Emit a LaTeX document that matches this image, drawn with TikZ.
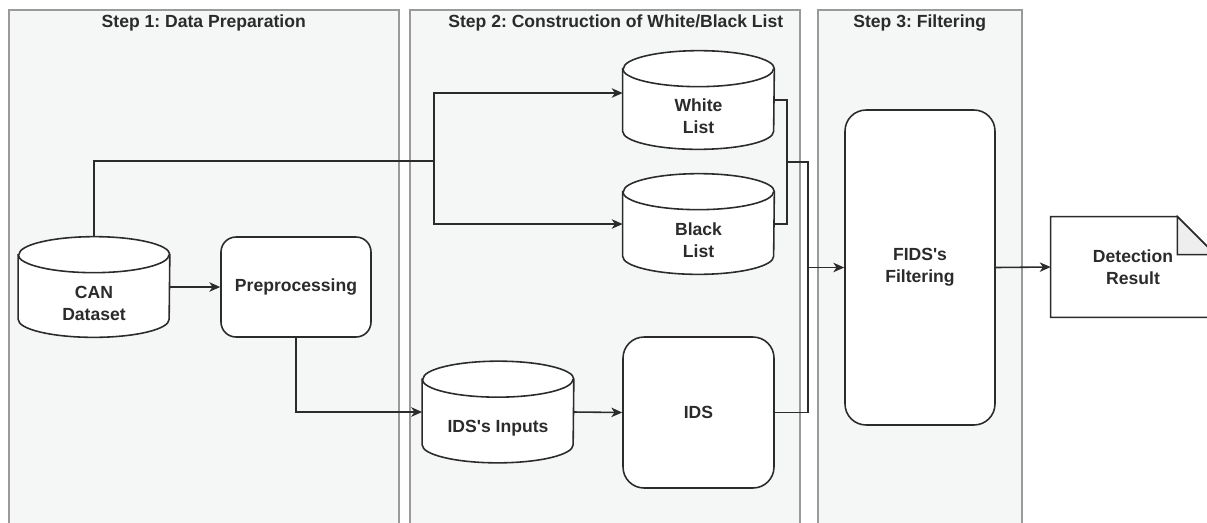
\documentclass[tikz,border=0pt]{standalone}
\usepackage{fontspec}
\setmainfont{Liberation Sans}
\usetikzlibrary{arrows.meta}
\frenchspacing

\pgfdeclarelayer{panels}
\pgfdeclarelayer{outlines}
\pgfsetlayers{panels,outlines,main}

\definecolor{panelfill}{HTML}{F5F6F6}
\definecolor{panelline}{HTML}{9A9A9A}
\definecolor{ink}{HTML}{2B2B2B}
\definecolor{foldfill}{HTML}{EEEEEE}

\newcommand{\apos}{\textquotesingle}

\tikzset{
  panel/.style={draw=panelline, line width=0.9pt, fill=panelfill, anchor=north west,
    minimum height=10.8cm, inner sep=0pt},
  paneltitle/.style={font=\bfseries, text=ink},
  proc/.style={draw=ink, line width=0.9pt, fill=white, rounded corners=0.3cm,
    font=\bfseries\fontsize{10}{12.5}\selectfont, text=ink, align=center, inner sep=0pt},
  store/.style={inner sep=0pt, minimum width=3.02cm, minimum height=2cm},
  storetext/.style={font=\bfseries\fontsize{10}{12.5}\selectfont, text=ink, align=center, yshift=-0.32cm},
  shapeline/.style={draw=ink, line width=0.9pt, fill=white},
  wire/.style={draw=ink, line width=0.9pt},
  flow/.style={wire, -{Stealth[length=6.2pt, width=5.4pt, inset=1.8pt]}},
}

% cylinder outline round a store node
\newcommand{\dbshape}[1]{%
  \path[shapeline] ([yshift=-0.36cm]#1.north west) -- ([yshift=0.36cm]#1.south west)
    arc[start angle=180, end angle=360, x radius=1.51cm, y radius=0.36cm]
    -- ([yshift=-0.36cm]#1.north east)
    arc[start angle=0, end angle=180, x radius=1.51cm, y radius=0.36cm] -- cycle;
  \draw[draw=ink, line width=0.9pt] ([yshift=-0.36cm]#1.north west)
    arc[start angle=180, end angle=360, x radius=1.51cm, y radius=0.36cm];
}

% page with folded corner
\newcommand{\noteshape}[1]{%
  \path[shapeline] (#1.north west) -- ([xshift=-0.76cm]#1.north east)
    -- ([yshift=-0.76cm]#1.north east) -- (#1.south east) -- (#1.south west) -- cycle;
  \path[shapeline, fill=foldfill] ([xshift=-0.76cm]#1.north east)
    -- ([xshift=-0.76cm, yshift=-0.76cm]#1.north east) -- ([yshift=-0.76cm]#1.north east) -- cycle;
}

\begin{document}
\begin{tikzpicture}[x=0.02cm, y=-0.02cm]
  \useasboundingbox (0,0) rectangle (1207,522);

  % the three steps
  \begin{pgfonlayer}{panels}
    \node[panel, minimum width=7.8cm] (p1) at (8,9) {};
    \node[panel, minimum width=7.8cm] (p2) at (409,9) {};
    \node[panel, minimum width=4.08cm] (p3) at (817,9) {};
  \end{pgfonlayer}
  \node[paneltitle] (t1) at ([yshift=-0.28cm]p1.north) {Step 1: Data Preparation};
  \node[paneltitle] (t2) at ([xshift=0.22cm, yshift=-0.28cm]p2.north) {Step 2: Construction of White/Black List};
  \node[paneltitle] (t3) at ([yshift=-0.28cm]p3.north) {Step 3: Filtering};

  % step 1
  \node[store, label={[storetext]center:CAN\\Dataset}] (can) at (94,287) {};
  \node[proc, minimum width=3cm, minimum height=2cm] (pre) at (296,287) {Preprocessing};

  % step 2
  \node[store, minimum height=1.96cm, label={[storetext]center:White\\List}] (wl) at (698.5,100) {};
  \node[store, label={[storetext]center:Black\\List}] (bl) at (698.5,224) {};
  \node[store, minimum height=2.02cm, label={[storetext]center:IDS\apos s Inputs}] (inp) at (498,412) {};
  \node[proc, minimum width=3.02cm, minimum height=3.02cm, rounded corners=0.42cm] (ids) at (698.5,412.5) {IDS};

  % step 3
  \node[proc, minimum width=3cm, minimum height=6.3cm, rounded corners=0.42cm] (fids) at (920,267.5) {FIDS\apos s\\Filtering};
  \node[store, minimum width=3.28cm, font=\bfseries\fontsize{10}{12.5}\selectfont, text=ink, align=center] (res) at (1133,267) {Detection\\Result};

  \begin{pgfonlayer}{outlines}
    \dbshape{can}
    \dbshape{wl}
    \dbshape{bl}
    \dbshape{inp}
    \noteshape{res}
  \end{pgfonlayer}

  % connectors
  \coordinate (split) at (434,161);
  \draw[wire] (can.north) |- (split);
  \draw[flow] (split) |- ([yshift=0.14cm]wl.west);
  \draw[flow] (split) |- (bl.west);
  \draw[flow] (can.east) -- (pre.west);
  \draw[flow] (pre.south) |- (inp.west);
  \draw[flow] (inp.east) -- (ids.west);

  \coordinate (lstjoin) at (787,162);
  \coordinate (fidsin) at ([xshift=-0.72cm]fids.west);
  \draw[wire] (wl.east) -| (lstjoin);
  \draw[wire] (bl.east) -| (lstjoin);
  \draw[wire] (lstjoin) -| (fidsin);
  \draw[wire] (ids.east) -| (fidsin);
  \draw[flow] (fidsin) -- (fids.west);
  \draw[flow] (fids.east) -- (res.west);
\end{tikzpicture}
\end{document}
